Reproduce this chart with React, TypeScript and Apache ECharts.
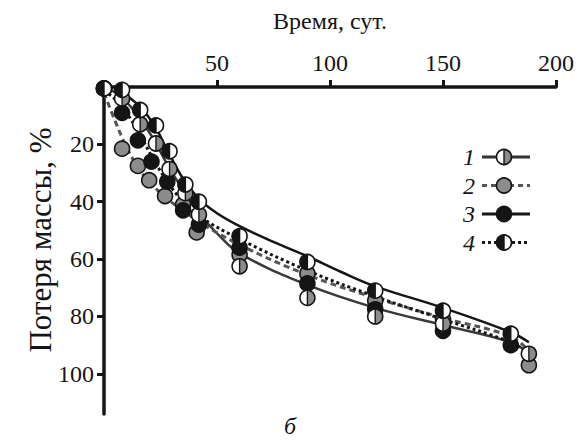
import React, { useEffect, useRef } from "react";
import * as echarts from "echarts";

const FONT = "Liberation Serif";

// Measured points [day, mass loss %]
const series1Points = [[0, 0.5], [8, 4], [16, 13], [23, 19.7], [29, 28.6], [36, 37], [42, 44.5], [60, 62.5], [90, 73.5], [120, 80], [150, 82.5], [188, 93]];
const series2Points = [[0, 0.5], [8, 21.5], [15, 27.5], [20, 32.5], [27, 38], [35, 41], [41, 50.7], [60, 58.5], [90, 65], [120, 74.5], [150, 81], [188, 97]];
const series3Points = [[0, 0.5], [8, 9], [15, 18.6], [21, 26], [28, 33], [35, 43], [42, 48], [60, 56], [90, 68.5], [120, 77.5], [150, 85], [180, 90]];
const series4Points = [[0, 0.5], [8, 1], [16, 8], [23, 13.4], [29, 22.4], [36, 34], [42, 40], [60, 52], [90, 61], [120, 71], [150, 78], [180, 86]];

// Fitted curves
const curveSolidBlack = [[10, 3], [16, 7], [22, 13], [28, 22], [35, 32], [42, 39], [50, 44], [60, 48.5], [75, 54], [90, 59], [105, 64.5], [120, 69.5], [150, 77], [180, 85.5], [188, 89]];
const curveDotted = [[0, 1], [7, 6], [14, 14], [21, 24], [28, 33], [35, 40], [42, 45], [60, 53], [90, 64], [120, 73], [150, 81], [180, 89], [188, 93]];
const curveDashed = [[0, 2], [5, 12], [10, 21], [15, 28], [20, 33], [28, 39], [35, 43], [42, 47], [60, 55], [90, 65.5], [120, 73.5], [150, 80.5], [180, 87], [188, 92]];
const curveSolidGray = [[0, 0], [7, 3], [14, 9], [21, 17], [28, 27], [35, 36], [42, 44], [50, 51], [60, 58], [90, 69], [120, 77], [150, 83], [180, 89], [188, 93]];

const xTicks = [50, 100, 150, 200];
const yTicks = [20, 40, 60, 80, 100];
const legendLabels = ["1", "2", "3", "4"];
const xTitle = "Время, сут.";
const yTitle = "Потеря массы, %";
const panelLabel = "б";

const GRAY = "#8c8c8c";
const INK = "#151515";
const R = 7.5;

function markerChildren(kind: string, cx: number, cy: number, r: number) {
  const ch: any[] = [];
  if (kind === "gray" || kind === "black") {
    ch.push({ type: "circle", shape: { cx, cy, r }, style: { fill: kind === "gray" ? GRAY : INK, stroke: INK, lineWidth: 1.6 } });
    return ch;
  }
  ch.push({ type: "circle", shape: { cx, cy, r }, style: { fill: "#fff" } });
  const right = kind === "halfGrayRight";
  ch.push({
    type: "sector",
    shape: { cx, cy, r0: 0, r, startAngle: right ? -Math.PI / 2 : Math.PI / 2, endAngle: right ? Math.PI / 2 : (3 * Math.PI) / 2, clockwise: true },
    style: { fill: right ? GRAY : INK },
  });
  ch.push({ type: "line", shape: { x1: cx, y1: cy - r, x2: cx, y2: cy + r }, style: { stroke: INK, lineWidth: 1.4 } });
  ch.push({ type: "circle", shape: { cx, cy, r }, style: { fill: "none", stroke: INK, lineWidth: 1.6 } });
  return ch;
}

function markerSeries(name: string, data: number[][], kind: string, z: number) {
  return {
    type: "custom",
    name,
    data,
    z,
    clip: false,
    encode: { x: 0, y: 1 },
    renderItem: (params: any, api: any) => {
      const p = api.coord([api.value(0), api.value(1)]);
      return { type: "group", children: markerChildren(kind, p[0], p[1], R) };
    },
  };
}

function curveSeries(data: number[][], color: string, type: any, width: number) {
  return {
    type: "line",
    data,
    smooth: 0.4,
    showSymbol: false,
    z: 2,
    lineStyle: { color, width, type, cap: "butt" },
  };
}

export default function App() {
  const ref = useRef<HTMLDivElement>(null);
  useEffect(() => {
    document.body.style.margin = "0";
    if (!ref.current) return;
    const chart = echarts.init(ref.current, null, { renderer: "svg" });

    const legendKinds = [
      { kind: "halfGrayRight", color: "#333", dash: "solid" as any },
      { kind: "gray", color: "#555", dash: [5, 4] as any },
      { kind: "black", color: INK, dash: "solid" as any },
      { kind: "halfBlackLeft", color: INK, dash: [3, 3] as any },
    ];
    const legendGraphics: any[] = [];
    legendLabels.forEach((lab, i) => {
      const y = 157 + i * 28.5;
      legendGraphics.push({
        type: "text",
        x: 469,
        y,
        style: { text: lab, fontFamily: FONT, fontStyle: "italic", fontSize: 24, fill: INK, align: "center", verticalAlign: "middle" },
      });
      legendGraphics.push({
        type: "line",
        shape: { x1: 482, y1: y, x2: 530, y2: y },
        style: { stroke: legendKinds[i].color, lineWidth: 3, lineDash: legendKinds[i].dash === "solid" ? null : legendKinds[i].dash },
      });
      legendGraphics.push({ type: "group", children: markerChildren(legendKinds[i].kind, 504, y, R) });
    });

    chart.setOption({
      animation: false,
      grid: { left: 104, right: 24, top: 87, bottom: 31, containLabel: false },
      xAxis: {
        type: "value",
        position: "top",
        min: 0,
        max: 200,
        interval: 50,
        name: xTitle,
        nameLocation: "middle",
        nameGap: 54,
        nameTextStyle: { fontFamily: FONT, fontSize: 24, color: INK },
        axisLine: { show: true, lineStyle: { color: INK, width: 3.5 } },
        axisTick: { show: true, length: 7, lineStyle: { color: INK, width: 3 }, customValues: xTicks },
        axisLabel: { fontFamily: FONT, fontSize: 24, color: INK, margin: 12, customValues: xTicks },
        splitLine: { show: false },
      },
      yAxis: {
        type: "value",
        inverse: true,
        min: 0,
        max: 114,
        interval: 20,
        axisLine: { show: true, lineStyle: { color: INK, width: 3.5 } },
        axisTick: { show: true, length: 7, lineStyle: { color: INK, width: 3 }, customValues: yTicks },
        axisLabel: { fontFamily: FONT, fontSize: 24, color: INK, margin: 10, customValues: yTicks },
        splitLine: { show: false },
      },
      graphic: [
        ...legendGraphics,
        {
          type: "text",
          x: 40,
          y: 240,
          rotation: Math.PI / 2,
          style: { text: yTitle, fontFamily: FONT, fontSize: 31, fill: INK, align: "center", verticalAlign: "middle" },
        },
        {
          type: "text",
          x: 290,
          y: 426,
          style: { text: panelLabel, fontFamily: FONT, fontStyle: "italic", fontSize: 24, fill: INK, align: "center", verticalAlign: "middle" },
        },
      ],
      series: [
        curveSeries(curveSolidGray, "#3a3a3a", "solid", 2.5),
        curveSeries(curveDashed, "#555", [6, 4], 3),
        curveSeries(curveDotted, INK, [3, 3], 3),
        curveSeries(curveSolidBlack, INK, "solid", 2.5),
        markerSeries("2", series2Points, "gray", 5),
        markerSeries("3", series3Points, "black", 6),
        markerSeries("1", series1Points, "halfGrayRight", 7),
        markerSeries("4", series4Points, "halfBlackLeft", 8),
      ],
    });
    return () => chart.dispose();
  }, []);
  return <div ref={ref} style={{ width: 580, height: 445 }} />;
}
